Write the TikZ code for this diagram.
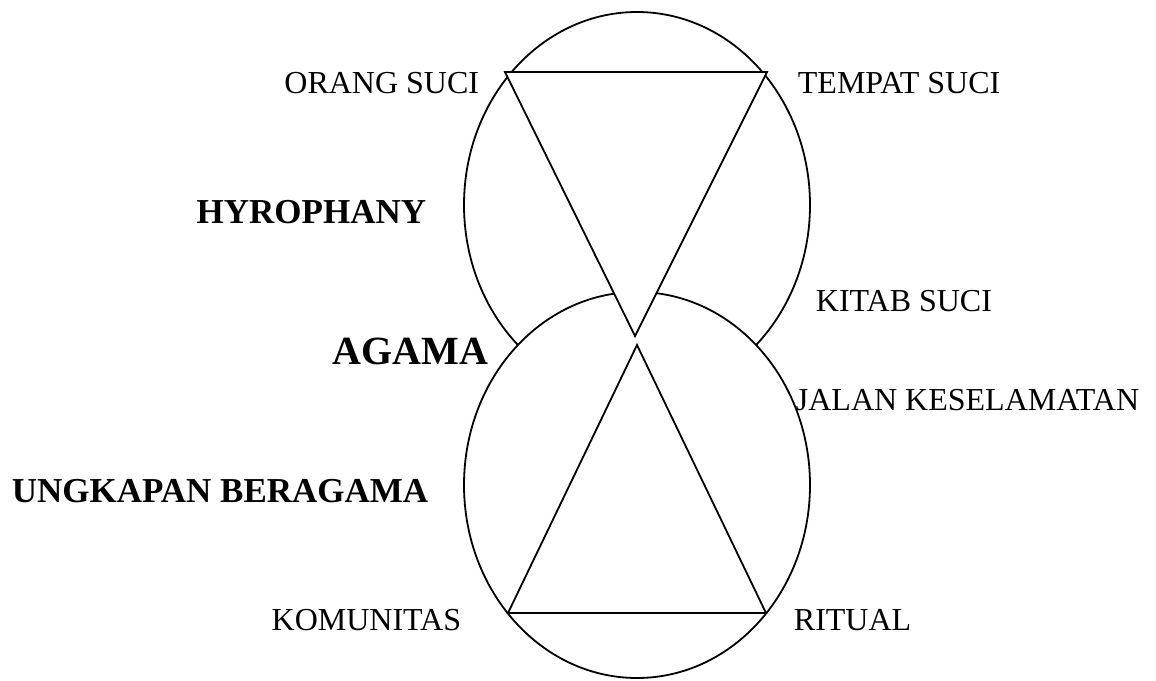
\documentclass[tikz,border=0pt]{standalone}
\usepackage{fontspec}
\setmainfont{Liberation Serif}
\usepackage{tikz}

\begin{document}
\begin{tikzpicture}[x=0.5pt, y=-0.5pt, line width=0.9pt,
  lbl/.style={inner sep=0pt, font=\fontsize{16}{18}\selectfont},
  blbl/.style={inner sep=0pt, font=\fontsize{17.5}{20}\selectfont\bfseries}]
  \useasboundingbox (0,0) rectangle (1156,680);
  % corners of the two triangles
  \coordinate (os) at (505,72);
  \coordinate (ts) at (767,72);
  \coordinate (ta) at (635,336);
  \coordinate (ba) at (637,345);
  \coordinate (km) at (508,613);
  \coordinate (rt) at (766,613);
  % circles and triangles
  \draw (637,205) ellipse [x radius=173, y radius=193];
  \filldraw[fill=white] (637,485) ellipse [x radius=173, y radius=193];
  \filldraw[fill=white] (os) -- (ts) -- (ta) -- cycle;
  \draw (ba) -- (km) -- (rt) -- cycle;
  % labels
  \node[lbl, anchor=east] (orang) at (480,83) {ORANG SUCI};
  \node[lbl, anchor=west] (tempat) at (797,83) {TEMPAT SUCI};
  \node[blbl, anchor=east] (hyro) at (427,212) {HYROPHANY};
  \node[lbl, anchor=west] (kitab) at (815,301) {KITAB SUCI};
  \node[blbl, anchor=east, font=\fontsize{20}{24}\selectfont\bfseries] (agama) at (489,351) {AGAMA};
  \node[lbl, anchor=west] (jalan) at (795,400) {JALAN KESELAMATAN};
  \node[blbl, anchor=west] (ungkap) at (11,491) {UNGKAPAN BERAGAMA};
  \node[lbl, anchor=east] (komun) at (462,620) {KOMUNITAS};
  \node[lbl, anchor=west] (ritual) at (793,620) {RITUAL};
\end{tikzpicture}
\end{document}
